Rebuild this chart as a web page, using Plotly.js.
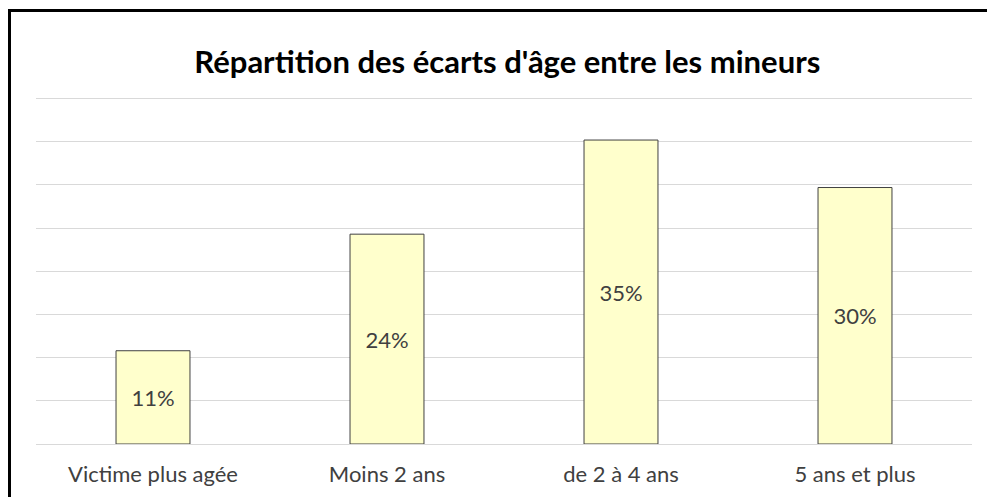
<!DOCTYPE html>
<html>
<head>
<meta charset="utf-8">
<script src="https://cdn.plot.ly/plotly-3.0.1.min.js"></script>
<style>
html,body{margin:0;padding:0;background:#fff;}
#chart{width:987px;height:497px;}
#frame{position:absolute;left:8px;top:9px;width:979px;height:488px;border-left:3px solid #000;border-top:3px solid #000;box-sizing:border-box;pointer-events:none;}
</style>
</head>
<body>
<div id="chart"></div>
<div id="frame"></div>
<script>
const categories = ["Victime plus agée", "Moins 2 ans", "de 2 à 4 ans", "5 ans et plus"];
const values = [10.8, 24.3, 35.2, 29.7];
const labels = ["11%", "24%", "35%", "30%"];
const chartTitle = "Répartition des écarts d'âge entre les mineurs";

const trace = {
  type: "bar",
  x: categories,
  y: values,
  text: labels,
  textposition: "inside",
  insidetextanchor: "middle",
  textangle: 0,
  constraintext: "none",
  textfont: {family: "Lato, 'Open Sans', sans-serif", size: 22, color: "#404040"},
  marker: {color: "#FFFFCC", line: {color: "#404040", width: 1}},
  hoverinfo: "none"
};

const layout = {
  width: 987, height: 497,
  margin: {l: 36, r: 15, t: 96, b: 53},
  paper_bgcolor: "#fff", plot_bgcolor: "#fff",
  bargap: 0.684,
  showlegend: false,
  title: {
    text: "<b>" + chartTitle + "</b>",
    font: {family: "Lato, 'Open Sans', sans-serif", size: 31, color: "#000"},
    x: 0.514, xanchor: "center", y: 0.875, yanchor: "middle"
  },
  xaxis: {
    type: "category",
    showgrid: false, zeroline: false, showline: false, ticks: "",
    ticklabelstandoff: 15,
    tickfont: {family: "Lato, 'Open Sans', sans-serif", size: 22, color: "#404040"}
  },
  yaxis: {
    range: [0, 40.3], dtick: 5, tick0: 0,
    showticklabels: false, ticks: "",
    showgrid: true, gridcolor: "#D9D9D9", gridwidth: 1,
    zeroline: true, zerolinecolor: "#D9D9D9", zerolinewidth: 1,
    showline: false
  }
};

Plotly.newPlot("chart", [trace], layout, {displayModeBar: false, staticPlot: true});
</script>
</body>
</html>
